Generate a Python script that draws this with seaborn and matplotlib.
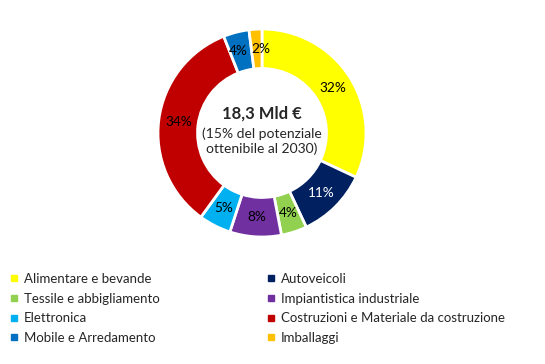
import matplotlib
matplotlib.use("Agg")
import matplotlib.pyplot as plt
from matplotlib.lines import Line2D
import seaborn as sns

sns.set_style("white")
plt.rcParams["font.family"] = ["Lato", "DejaVu Sans"]

# Data
sectors = [
    "Alimentare e bevande",
    "Autoveicoli",
    "Tessile e abbigliamento",
    "Impiantistica industriale",
    "Elettronica",
    "Costruzioni e Materiale da costruzione",
    "Mobile e Arredamento",
    "Imballaggi",
]
shares = [32, 11, 4, 8, 5, 34, 4, 2]
colors = ["#FFFF00", "#002060", "#92D050", "#7030A0",
          "#00B0F0", "#C00000", "#0070C0", "#FFC000"]
label_colors = ["black", "white", "black", "black",
                "black", "black", "black", "black"]
center_title = "18,3 Mld €"
center_sub = "(15% del potenziale\nottenibile al 2030)"

fig = plt.figure(figsize=(5.45, 3.64), dpi=100)
# axes sized so donut spans ~ x 158-366, y 29-237 px
ax = fig.add_axes([158 / 545, 1 - 237 / 364, 208 / 545, 208 / 364])

wedges, texts, autotexts = ax.pie(
    shares,
    colors=colors,
    startangle=90,
    counterclock=False,
    radius=1.0,
    autopct=lambda p: f"{p:.0f}%",
    pctdistance=0.81,
    wedgeprops=dict(width=0.38, edgecolor="white", linewidth=2),
    textprops=dict(fontsize=9.8),
)
for t, c in zip(autotexts, label_colors):
    t.set_color(c)
# the two small top slices: spread labels a touch so they only just touch
x6, y6 = autotexts[6].get_position()
autotexts[6].set_position((x6 - 0.03, y6))
x7, y7 = autotexts[7].get_position()
autotexts[7].set_position((x7 + 0.04, y7))

ax.set_aspect("equal")
ax.set_xlim(-1, 1)
ax.set_ylim(-1, 1)

ax.text(0, 0.19, center_title, ha="center", va="center",
        fontsize=12, fontweight="bold")
ax.text(0, -0.08, center_sub, ha="center", va="center",
        fontsize=10, linespacing=1.3)

# Legend: two columns, row-wise order
handles = [Line2D([0], [0], marker="s", linestyle="", markersize=4.5,
                  markerfacecolor=c, markeredgecolor=c) for c in colors]
left_idx = [0, 2, 4, 6]
right_idx = [1, 3, 5, 7]
common = dict(frameon=False, fontsize=9.5, handlelength=0.6,
              handletextpad=0.45, labelspacing=0.58, borderpad=0,
              borderaxespad=0, loc="upper left")
fig.legend([handles[i] for i in left_idx], [sectors[i] for i in left_idx],
           bbox_to_anchor=(10 / 545, 1 - 273 / 364), **common)
fig.legend([handles[i] for i in right_idx], [sectors[i] for i in right_idx],
           bbox_to_anchor=(267 / 545, 1 - 273 / 364), **common)

fig.savefig("out.png", dpi=100, facecolor="white")
